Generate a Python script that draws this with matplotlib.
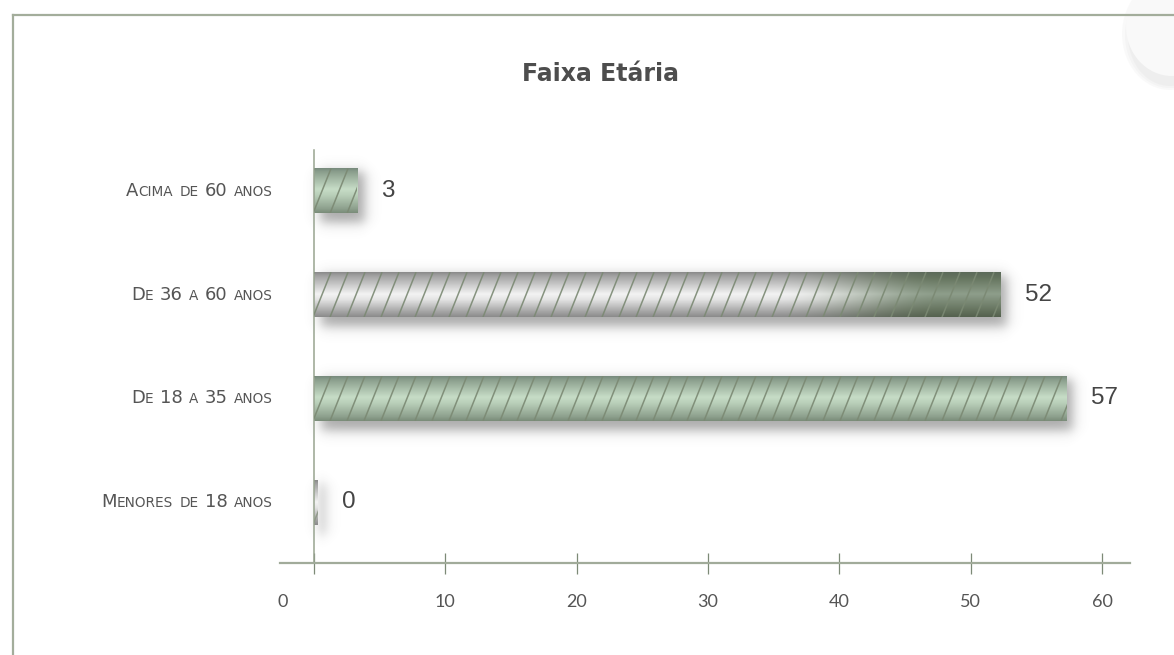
"""Faixa Etaria: horizontal bar chart with metallic, hatched bars."""

import numpy as np
import matplotlib

matplotlib.use("Agg")
import matplotlib.pyplot as plt
from matplotlib.collections import LineCollection
from matplotlib.colors import to_rgb
from matplotlib.lines import Line2D
from matplotlib.offsetbox import AnnotationBbox, HPacker, TextArea
from matplotlib.patches import Ellipse, Rectangle
from matplotlib.transforms import ScaledTranslation

# data (bottom to top)
categories = ["Menores de 18 anos", "De 18 a 35 anos", "De 36 a 60 anos", "Acima de 60 anos"]
counts = [0, 57, 52, 3]
xticks = [0, 10, 20, 30, 40, 50, 60]
finishes = ["silver", "green", "silver_to_dark", "green"]

W, H = 1174, 655
DPI = 100
AX_L, AX_R, AX_TOP, AX_BOT = 280, 1130, 150, 563
XLIM = (-2.59, 62.13)
YLIM = (-0.588, 3.395)
BAR_H = 0.434

TEXT_GREY = "#555555"
AXIS_GREEN = "#a1ab9a"
TICK_GREEN = "#7d8a77"
LABEL_FONT = ["Lato", "DejaVu Sans"]

GRADIENTS = {
    "green": [(0.0, "#73867a"), (0.1, "#8b9f8d"), (0.48, "#c7ddc7"), (0.62, "#b8ceb8"),
              (0.9, "#8fa28f"), (1.0, "#7b8d7a")],
    "silver": [(0.0, "#858585"), (0.1, "#a2a2a2"), (0.5, "#f3f3f3"), (0.62, "#e4e4e4"),
               (0.9, "#a2a2a2"), (1.0, "#8c8c8c")],
    "dark": [(0.0, "#5a6858"), (0.15, "#66755f"), (0.5, "#8e9e8b"), (0.85, "#66745f"),
             (1.0, "#55624f")],
}


def profile(stops, n=60):
    t = np.linspace(0, 1, n)
    pos = [p for p, _ in stops]
    rgb = np.array([to_rgb(c) for _, c in stops])
    return np.stack([np.interp(t, pos, rgb[:, k]) for k in range(3)], axis=1)


def smooth_box(v, a, b, s):
    return 0.5 * (np.tanh((v - a) / s) - np.tanh((v - b) / s))


def small_caps(text, big, small):
    words = []
    for word in text.split(" "):
        runs, buf, buf_big = [], "", None
        for ch in word:
            is_big = not ch.islower()
            if buf and is_big != buf_big:
                runs.append((buf, buf_big))
                buf = ""
            buf += ch.upper()
            buf_big = is_big
        runs.append((buf, buf_big))
        parts = [
            TextArea(s, textprops=dict(fontsize=big if b else small, color=TEXT_GREY,
                                       family=["DejaVu Sans"]))
            for s, b in runs
        ]
        words.append(HPacker(children=parts, pad=0, sep=0, align="baseline"))
    return HPacker(children=words, pad=0, sep=4.6, align="baseline")


fig = plt.figure(figsize=(W / DPI, H / DPI), dpi=DPI)
fig.patch.set_facecolor("white")
ax = fig.add_axes([AX_L / W, 1 - AX_BOT / H, (AX_R - AX_L) / W, (AX_BOT - AX_TOP) / H])
ax.set_xlim(*XLIM)
ax.set_ylim(*YLIM)
ax.set_facecolor("none")

px_x = (XLIM[1] - XLIM[0]) / (AX_R - AX_L)  # data units per pixel
px_y = (YLIM[1] - YLIM[0]) / (AX_BOT - AX_TOP)
bevel = 4 * px_x

for i, (value, finish) in enumerate(zip(counts, finishes)):
    x1 = value + bevel
    y0, y1 = i - BAR_H / 2, i + BAR_H / 2

    # soft drop shadow, offset down-right
    m = 30
    sx = np.linspace(-m * px_x, x1 + m * px_x, 300)
    sy = np.linspace(y0 - m * px_y, y1 + m * px_y, 80)
    fx = smooth_box(sx, 6 * px_x, x1 + 7 * px_x, 7 * px_x)
    fy = smooth_box(sy, y0 - 10 * px_y, y1 - 4 * px_y, 7 * px_y)
    alpha = 0.5 * np.outer(fy[::-1], fx)
    shadow = np.zeros(alpha.shape + (4,))
    shadow[..., :3] = 0.33
    shadow[..., 3] = alpha
    ax.imshow(shadow, extent=(sx[0], sx[-1], sy[0], sy[-1]), aspect="auto",
              interpolation="bilinear", zorder=1)

    # metallic gradient
    if finish == "silver_to_dark":
        nx = 200
        xs = np.linspace(0, x1, nx)
        t = np.clip((xs - 35) / 13, 0, 1)
        t = t * t * (3 - 2 * t)
        a = profile(GRADIENTS["silver"])[:, None, :]
        b = profile(GRADIENTS["dark"])[:, None, :]
        img = a * (1 - t[None, :, None]) + b * t[None, :, None]
    else:
        img = profile(GRADIENTS[finish])[:, None, :].repeat(2, axis=1)
    im = ax.imshow(img, extent=(0, x1, y0, y1), aspect="auto", interpolation="bilinear",
                   zorder=2)
    im.set_clip_path(Rectangle((0, y0), x1, BAR_H, transform=ax.transData))

    # diagonal stripes, clipped to the bar
    step = 17 * px_x
    dx = 18 * px_x
    starts = np.arange(-dx, x1, step)
    segs = [[(s, y0), (s + dx, y1)] for s in starts]
    hatch_col = "#7b8973" if finish != "silver" else "#8e9887"
    lc = LineCollection(segs, colors=hatch_col, linewidths=1.1, alpha=0.9, zorder=3)
    ax.add_collection(lc, autolim=False)
    lc.set_clip_path(Rectangle((0, y0), x1, BAR_H, transform=ax.transData))

    ax.annotate(f"{value}", xy=(x1, i), xytext=(24 * 72 / DPI, 0), textcoords="offset points",
                ha="left", va="center", fontsize=17.5, color="#454545",
                family=["Liberation Sans", "DejaVu Sans"], zorder=4)

    label = small_caps(categories[i], 13, 9.8)
    ab = AnnotationBbox(label, xy=(0, i), xycoords="data",
                        xybox=(-(314 - 273) * 72 / DPI, 0), boxcoords="offset points",
                        box_alignment=(1, 0.5), frameon=False, pad=0, annotation_clip=False)
    ax.add_artist(ab)

# axes styling
for side in ("top", "right"):
    ax.spines[side].set_visible(False)
ax.spines["left"].set_position(("data", 0))
ax.spines["left"].set_color("#98a490")
ax.spines["left"].set_linewidth(1.1)
ax.spines["bottom"].set_color(AXIS_GREEN)
ax.spines["bottom"].set_linewidth(1.6)
ax.set_yticks([])
ax.set_xticks(xticks)
ax.tick_params(axis="x", direction="inout", length=21 * 72 / DPI, width=0.9,
               color=TICK_GREEN, pad=15, labelsize=13, labelcolor=TEXT_GREY)
for tl in ax.get_xticklabels():
    tl.set_family(LABEL_FONT)
first = ax.get_xticklabels()[0]
first.set_transform(first.get_transform() + ScaledTranslation(-31 / DPI, 0, fig.dpi_scale_trans))

fig.text(600 / W, 1 - 74 / H, "Faixa Etária", ha="center", va="center", fontsize=17,
         fontweight="bold", color="#4d4d4d", family=["DejaVu Sans"])

# outer frame and corner decoration
frame_col = "#a3ad9b"
fig.add_artist(Line2D([13 / W, 1], [1 - 15 / H] * 2, color=frame_col, lw=1.6))
fig.add_artist(Line2D([13 / W] * 2, [1 - 15 / H, 0], color=frame_col, lw=1.6))
for k, a in enumerate([0.05, 0.05, 0.06]):
    fig.add_artist(Ellipse((1170 / W, 1 - (34 + k) / H), (96 - 6 * k) / W, (112 - 6 * k) / H,
                           transform=fig.transFigure, facecolor="#9a9a9a", edgecolor="none",
                           alpha=a, zorder=0))
fig.add_artist(Ellipse((1172 / W, 1 - 26 / H), 92 / W, 100 / H, transform=fig.transFigure,
                       facecolor="#f9f9f9", edgecolor="none", zorder=0))

fig.savefig("out.png", dpi=DPI)
